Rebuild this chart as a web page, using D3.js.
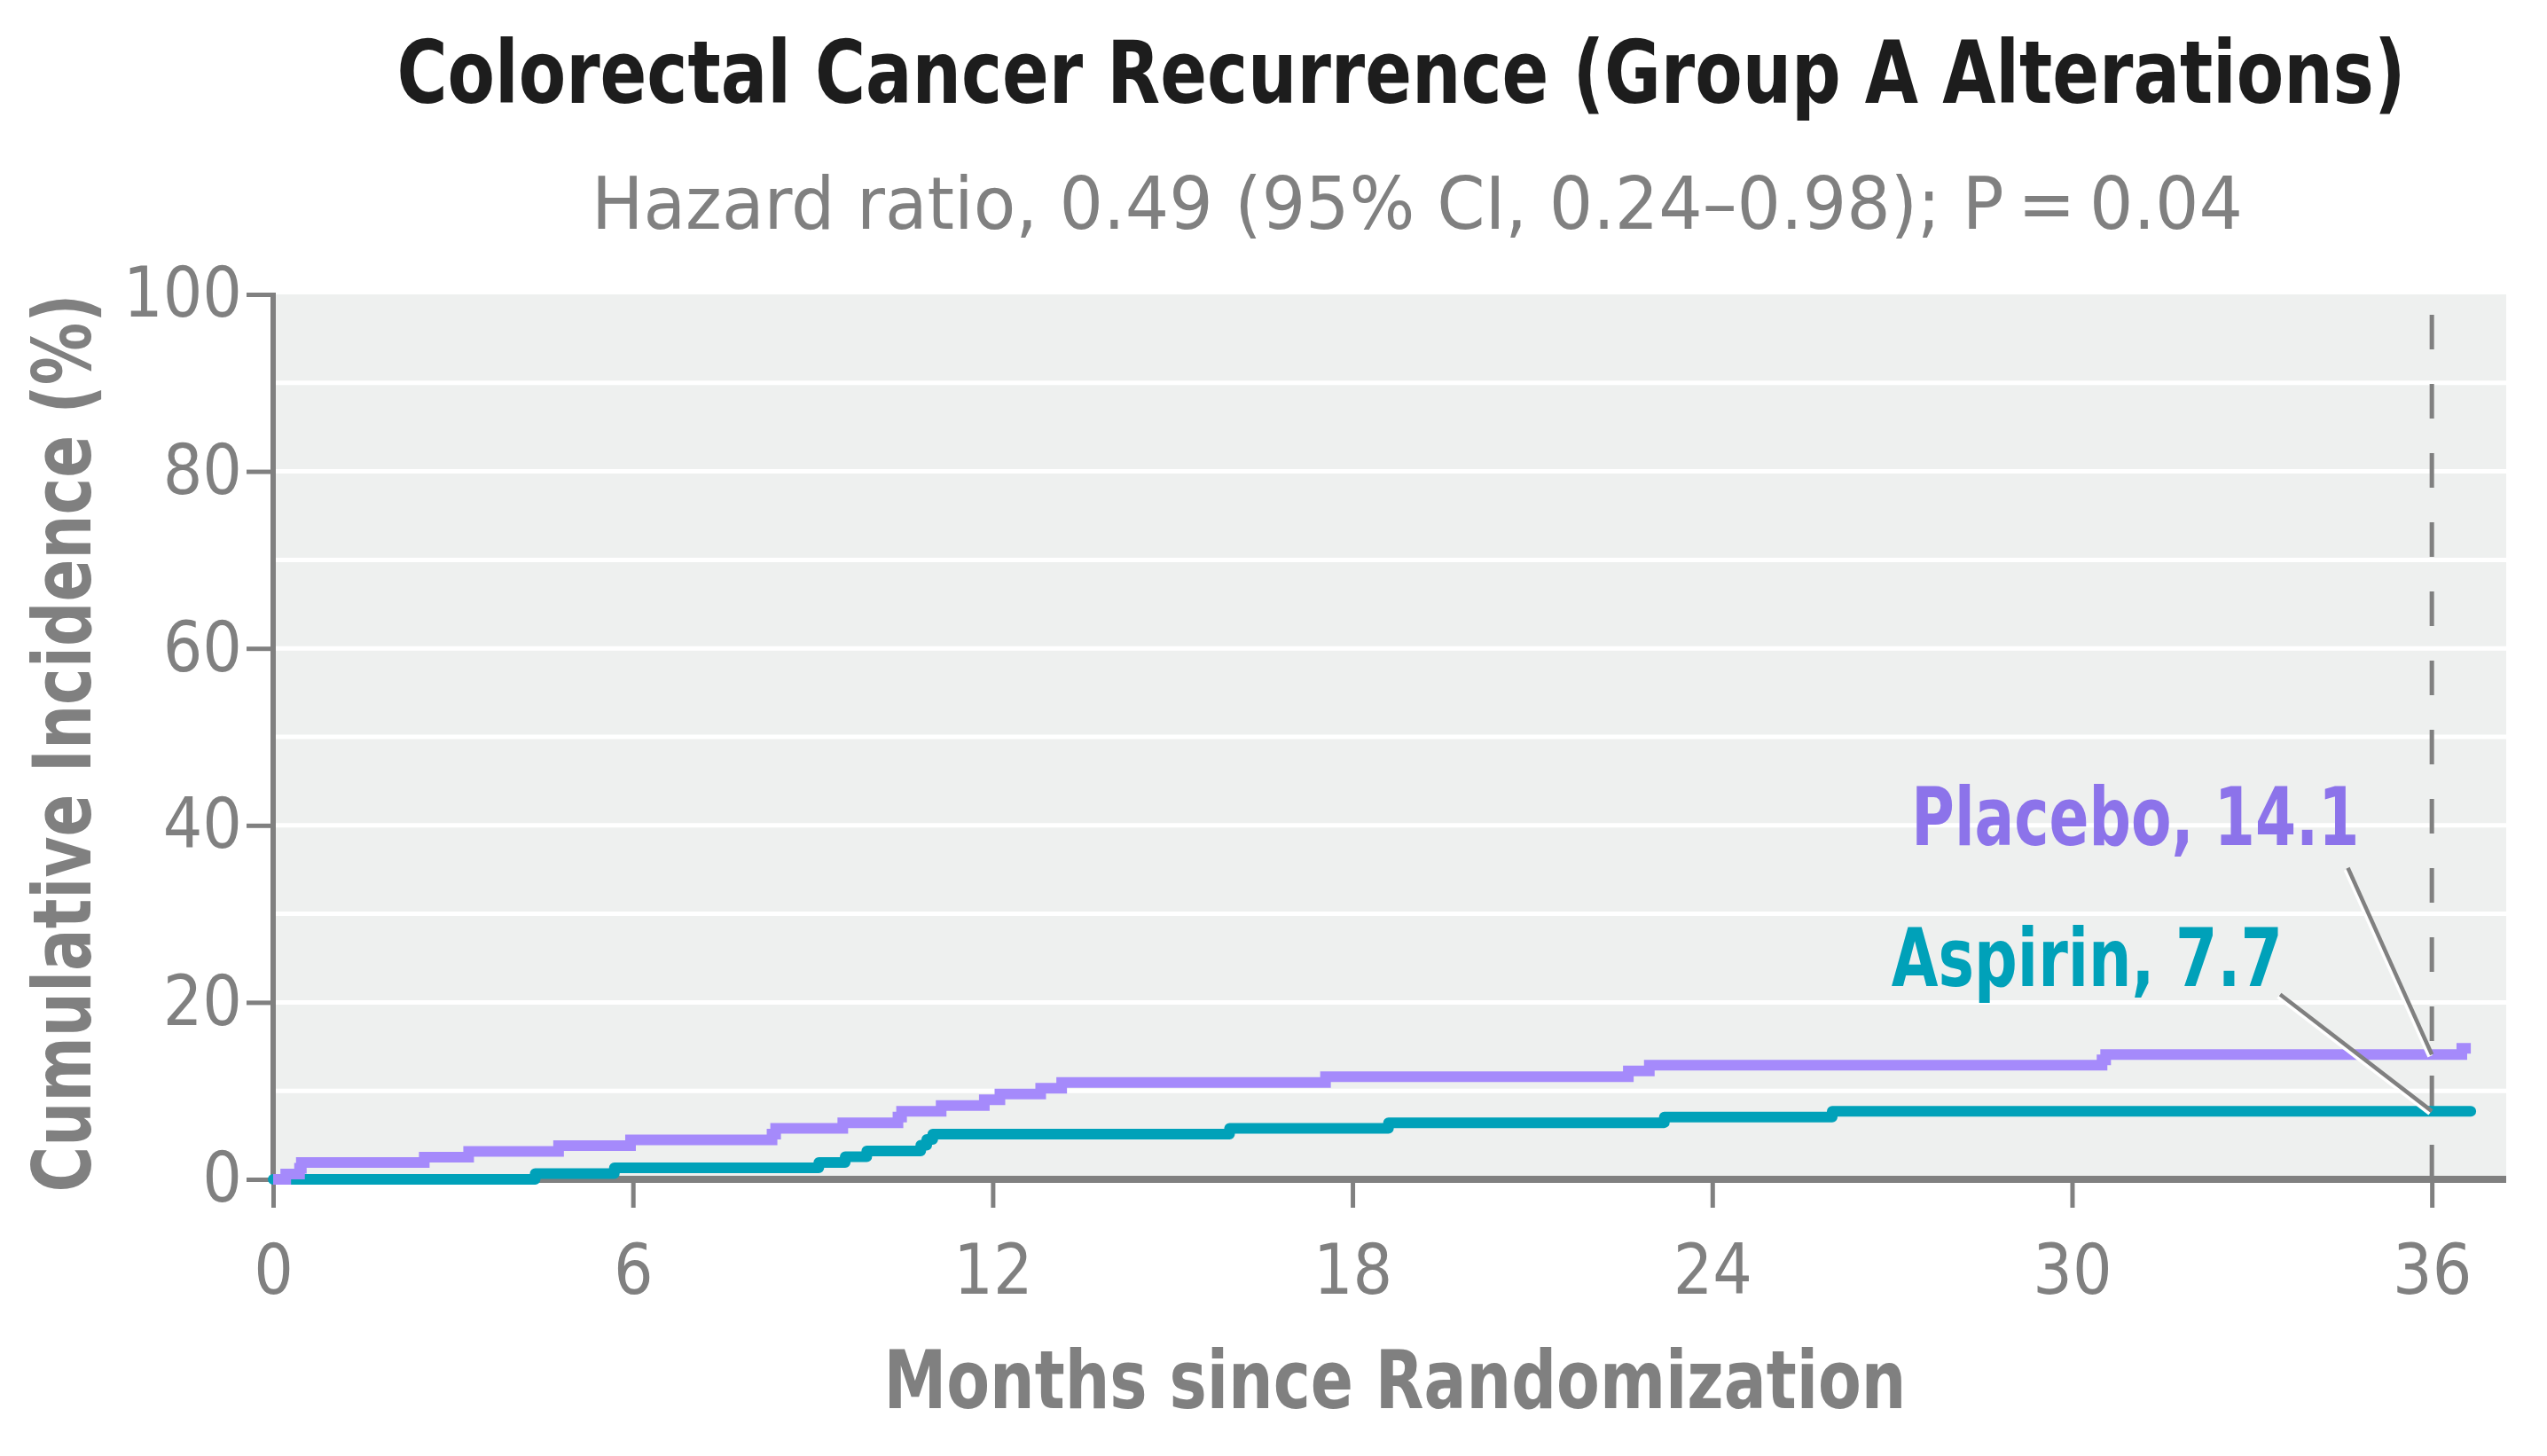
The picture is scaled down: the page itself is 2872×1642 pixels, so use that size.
<!DOCTYPE html>
<html>
<head>
<meta charset="utf-8">
<script src="https://cdn.jsdelivr.net/npm/d3@7"></script>
<style>
  body { margin: 0; background: #fff; }
  svg { display: block; }
</style>
</head>
<body>
<svg id="chart"></svg>
<script>
// data
var placeboMonths = [0, 0.21, 0.44, 0.47, 2.52, 3.26, 4.76, 5.96, 8.32, 8.38, 9.5, 10.42, 10.48, 11.14, 11.86, 12.12, 12.8, 13.15, 17.55, 22.6, 22.95, 30.5, 30.56, 36.5, 36.65];
var placeboValues = [0, 0.6, 1.25, 1.9, 2.5, 3.15, 3.8, 4.45, 5.1, 5.75, 6.4, 7.05, 7.7, 8.35, 9.0, 9.65, 10.3, 10.95, 11.6, 12.25, 12.9, 13.5, 14.1, 14.8, 14.8];

var aspirinMonths = [0, 4.37, 5.69, 9.1, 9.54, 9.9, 10.8, 10.9, 11.0, 15.95, 18.6, 23.2, 26.0, 36.65];
var aspirinValues = [0, 0.65, 1.3, 1.9, 2.55, 3.2, 3.85, 4.5, 5.1, 5.75, 6.4, 7.05, 7.7, 7.7];

var xTicks = [0, 6, 12, 18, 24, 30, 36];
var yTicks = [0, 20, 40, 60, 80, 100];
var gridValues = [10, 20, 30, 40, 50, 60, 70, 80, 90];

var title = "Colorectal Cancer Recurrence (Group A Alterations)";
var subtitle = "Hazard ratio, 0.49 (95% CI, 0.24\u20130.98); P\u2009=\u20090.04";
var xTitle = "Months since Randomization";
var yTitle = "Cumulative Incidence (%)";

var placeboLabel = "Placebo, 14.1";
var aspirinLabel = "Aspirin, 7.7";

var FONT = "'Liberation Sans Narrow', 'DejaVu Sans Condensed', 'Open Sans', sans-serif";
var GRAY = "#808080";
var PURPLE = "#a58afb", PURPLE_TXT = "#8c73ea";
var TEAL = "#00a1b9";

var W = 2872, H = 1642;
var XMAX = 37.24;

var svg = d3.select("#chart")
  .attr("width", W)
  .attr("height", H)
  .style("font-family", FONT);

var x = d3.scaleLinear().domain([0, XMAX]).range([308, 2826]);
var y = d3.scaleLinear().domain([0, 100]).range([1330, 332]);

function series(months, values) {
  return months.map(function(m, i) { return { m: m, v: values[i] }; });
}

// plot background
svg.append("rect")
  .attr("x", x(0))
  .attr("y", y(100))
  .attr("width", x(XMAX) - x(0))
  .attr("height", y(0) - y(100))
  .attr("fill", "#eef0ef");

// gridlines
svg.append("g").selectAll("line")
  .data(gridValues)
  .join("line")
  .attr("x1", x(0)).attr("x2", x(XMAX))
  .attr("y1", function(d) { return y(d); })
  .attr("y2", function(d) { return y(d); })
  .attr("stroke", "#fff")
  .attr("stroke-width", 5);

// dashed 36-month marker, drawn from the bottom up
svg.append("line")
  .attr("x1", x(36)).attr("x2", x(36))
  .attr("y1", y(0)).attr("y2", y(100))
  .attr("stroke", GRAY)
  .attr("stroke-width", 5)
  .attr("stroke-dasharray", "39,39");

// axes
var yAxis = svg.append("g")
  .attr("transform", "translate(" + x(0) + ",0)")
  .call(d3.axisLeft(y).tickValues(yTicks).tickSize(30).tickPadding(5));
yAxis.select(".domain").remove();
yAxis.selectAll(".tick line").attr("stroke", GRAY).attr("stroke-width", 5);
yAxis.selectAll(".tick text")
  .attr("fill", GRAY)
  .style("font-size", "78px")
  .style("font-family", FONT);

var xAxis = svg.append("g")
  .attr("transform", "translate(0," + y(0) + ")")
  .call(d3.axisBottom(x).tickValues(xTicks).tickSize(32).tickPadding(42));
xAxis.select(".domain").remove();
xAxis.selectAll(".tick line").attr("stroke", GRAY).attr("stroke-width", 5);
xAxis.selectAll(".tick text")
  .attr("fill", GRAY)
  .style("font-size", "78px")
  .style("font-family", FONT);

svg.append("line")
  .attr("x1", x(0)).attr("x2", x(0))
  .attr("y1", y(100) - 2).attr("y2", y(0))
  .attr("stroke", GRAY)
  .attr("stroke-width", 6);

svg.append("line")
  .attr("x1", x(0) - 3).attr("x2", x(XMAX))
  .attr("y1", y(0)).attr("y2", y(0))
  .attr("stroke", GRAY)
  .attr("stroke-width", 8);

// curves
var line = d3.line()
  .x(function(d) { return x(d.m); })
  .y(function(d) { return y(d.v); })
  .curve(d3.curveStepAfter);

svg.append("path")
  .datum(series(aspirinMonths, aspirinValues))
  .attr("fill", "none")
  .attr("stroke", TEAL)
  .attr("stroke-width", 12)
  .attr("stroke-linejoin", "round")
  .attr("stroke-linecap", "round")
  .attr("d", line);

svg.append("path")
  .datum(series(placeboMonths, placeboValues))
  .attr("fill", "none")
  .attr("stroke", PURPLE)
  .attr("stroke-width", 12)
  .attr("stroke-linejoin", "miter")
  .attr("stroke-linecap", "butt")
  .attr("d", line);

// leader lines
var leaders = [
  { from: [34.6, 35.2], to: [36, 14.1] },
  { from: [33.47, 20.9], to: [36, 7.7] }
];
leaders.forEach(function(l) {
  svg.append("line")
    .attr("x1", x(l.from[0]) - 2).attr("y1", y(l.from[1]) + 2)
    .attr("x2", x(l.to[0]) - 2).attr("y2", y(l.to[1]) + 2)
    .attr("stroke", "#fff").attr("stroke-width", 6);
  svg.append("line")
    .attr("x1", x(l.from[0])).attr("y1", y(l.from[1]))
    .attr("x2", x(l.to[0])).attr("y2", y(l.to[1]))
    .attr("stroke", GRAY).attr("stroke-width", 4.5);
});

// curve labels
svg.append("text")
  .attr("x", x(34.79)).attr("y", y(37.8))
  .attr("text-anchor", "end")
  .attr("fill", PURPLE_TXT)
  .style("font-size", "90px")
  .style("font-weight", "bold")
  .attr("textLength", 505)
  .attr("lengthAdjust", "spacingAndGlyphs")
  .text(placeboLabel);

svg.append("text")
  .attr("x", x(33.51)).attr("y", y(21.8))
  .attr("text-anchor", "end")
  .attr("fill", TEAL)
  .style("font-size", "90px")
  .style("font-weight", "bold")
  .attr("textLength", 441)
  .attr("lengthAdjust", "spacingAndGlyphs")
  .text(aspirinLabel);

// titles (title drawn smaller and stretched vertically so it stays inside the page)
svg.append("text")
  .attr("transform", "translate(1580,116) scale(1,1.22)")
  .attr("text-anchor", "middle")
  .attr("fill", "#1d1d1d")
  .style("font-size", "80px")
  .style("font-weight", "bold")
  .attr("textLength", 2265)
  .attr("lengthAdjust", "spacingAndGlyphs")
  .text(title);

svg.append("text")
  .attr("x", 1598).attr("y", 258)
  .attr("text-anchor", "middle")
  .attr("fill", GRAY)
  .style("font-size", "82px")
  .attr("textLength", 1862)
  .attr("lengthAdjust", "spacingAndGlyphs")
  .text(subtitle);

svg.append("text")
  .attr("x", 1573).attr("y", 1588)
  .attr("text-anchor", "middle")
  .attr("fill", GRAY)
  .style("font-size", "90px")
  .style("font-weight", "bold")
  .attr("textLength", 1153)
  .attr("lengthAdjust", "spacingAndGlyphs")
  .text(xTitle);

svg.append("text")
  .attr("transform", "translate(102,838) rotate(-90)")
  .attr("text-anchor", "middle")
  .attr("fill", GRAY)
  .style("font-size", "90px")
  .style("font-weight", "bold")
  .attr("textLength", 1013)
  .attr("lengthAdjust", "spacingAndGlyphs")
  .text(yTitle);
</script>
</body>
</html>
